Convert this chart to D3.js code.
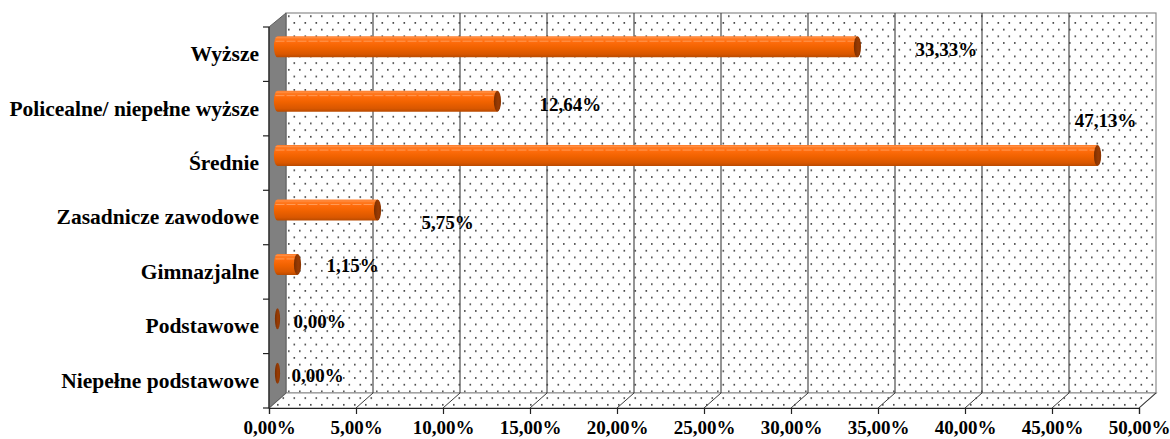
<!DOCTYPE html>
<html lang="pl">
<head>
<meta charset="utf-8">
<script src="https://cdn.jsdelivr.net/npm/d3@7"></script>
<style>
  html, body { margin: 0; padding: 0; background: #fff; }
  svg { display: block; }
  text { font-family: "Liberation Serif", "Times New Roman", serif; font-weight: bold; fill: #000; }
</style>
</head>
<body>
<svg id="chart" width="1170" height="439"></svg>
<script>
// Education level categories (top to bottom) and their shares
const categories = [
  "Wyższe",
  "Policealne/ niepełne wyższe",
  "Średnie",
  "Zasadnicze zawodowe",
  "Gimnazjalne",
  "Podstawowe",
  "Niepełne podstawowe"
];
const shares = [0.3333, 0.1264, 0.4713, 0.0575, 0.0115, 0.0000, 0.0000];
const tickValues = [0, 0.05, 0.10, 0.15, 0.20, 0.25, 0.30, 0.35, 0.40, 0.45, 0.50];

// Where each value label sits relative to the end of its bar (layout only)
const labelNudge = [
  [89, 3], [73, 3], [8, -35], [70, 12], [55, 1], [42, 3], [40, 2]
];

const pl = d3.formatLocale({ decimal: ",", thousands: " ", grouping: [3], currency: ["", " zł"] });
const pct = pl.format(".2%");

const svg = d3.select("#chart");
const depthX = 17, depthY = 15;          // 3D offset from the front plane to the back wall
const front = { left: 269, right: 1139, top: 27, bottom: 408 };

const xFront = d3.scaleLinear().domain([0, 0.5]).range([front.left, front.right]);
const xBack  = d3.scaleLinear().domain([0, 0.5]).range([front.left + depthX, front.right + depthX]);
const xMid   = d3.scaleLinear().domain([0, 0.5]).range([front.left + depthX / 2, front.right + depthX / 2]);
const yFront = d3.scaleBand().domain(categories).range([front.top, front.bottom]).paddingInner(0).paddingOuter(0);
const yMid = c => yFront(c) + yFront.bandwidth() / 2 - depthY / 2;

const backTop = front.top - depthY + 1, backBottom = front.bottom - depthY;

// ---- defs: dotted fill and cylinder shading
const defs = svg.append("defs");
const pat = defs.append("pattern").attr("id", "dots")
  .attr("patternUnits", "userSpaceOnUse").attr("width", 11).attr("height", 13.4);
pat.append("rect").attr("width", 11).attr("height", 13.4).attr("fill", "#fff");
pat.append("rect").attr("x", 2).attr("y", 2).attr("width", 1.6).attr("height", 1.6).attr("fill", "#3a3a3a");
pat.append("rect").attr("x", 7.5).attr("y", 8.7).attr("width", 1.6).attr("height", 1.6).attr("fill", "#3a3a3a");

const body = defs.append("linearGradient").attr("id", "cyl").attr("x1", 0).attr("y1", 0).attr("x2", 0).attr("y2", 1);
[[0, "#ff7f2e"], [0.12, "#ff7a22"], [0.28, "#ff6c0c"], [0.55, "#f06200"], [0.85, "#d95700"], [1, "#b94a00"]]
  .forEach(([o, c]) => body.append("stop").attr("offset", o).attr("stop-color", c));
const cap = defs.append("linearGradient").attr("id", "cap").attr("x1", 0).attr("y1", 0).attr("x2", 1).attr("y2", 0);
[[0, "#7a2e00"], [0.6, "#9a3c04"], [1, "#8a3400"]]
  .forEach(([o, c]) => cap.append("stop").attr("offset", o).attr("stop-color", c));

// ---- back wall
svg.append("rect")
  .attr("x", xBack(0)).attr("y", backTop)
  .attr("width", xBack(0.5) - xBack(0)).attr("height", backBottom - backTop)
  .attr("fill", "url(#dots)").attr("stroke", "#8c8c8c").attr("stroke-width", 1.2);

// ---- floor
svg.append("path")
  .attr("d", `M${xFront(0)},${front.bottom} L${xBack(0)},${backBottom} L${xBack(0.5)},${backBottom} L${xFront(0.5)},${front.bottom} Z`)
  .attr("fill", "url(#dots)").attr("stroke", "#8c8c8c").attr("stroke-width", 1.2);

// ---- gridlines on the wall and the floor
const grid = svg.append("g");
grid.selectAll("line.v").data(tickValues.slice(1, -1)).join("line")
  .attr("class", "v")
  .attr("x1", d => xBack(d)).attr("x2", d => xBack(d))
  .attr("y1", backTop).attr("y2", backBottom)
  .attr("stroke", "#3c3c3c").attr("stroke-width", 1.1);
grid.selectAll("line.f").data(tickValues.slice(1)).join("line")
  .attr("class", "f")
  .attr("x1", d => xBack(d)).attr("x2", d => xFront(d))
  .attr("y1", backBottom).attr("y2", front.bottom)
  .attr("stroke", "#3c3c3c").attr("stroke-width", 1);

// ---- left side wall
svg.append("path")
  .attr("d", `M${front.left},${front.top} L${xBack(0)},${backTop} L${xBack(0)},${backBottom} L${front.left},${front.bottom} Z`)
  .attr("fill", "#808080").attr("stroke", "#5e5e5e").attr("stroke-width", 1);

// ---- bars as cylinders
const ry = 10.5, rx = 3.6;
const bars = svg.append("g").selectAll("g").data(categories.map((c, i) => ({ c, v: shares[i], i }))).join("g");

bars.filter(d => d.v > 0).append("path")
  .attr("d", d => {
    const x0 = xMid(0), x1 = xMid(d.v), y = yMid(d.c);
    return `M${x1},${y - ry} L${x0},${y - ry} A${rx},${ry} 0 0 0 ${x0},${y + ry} L${x1},${y + ry} Z`;
  })
  .attr("fill", "url(#cyl)");

// soft highlight lines along the top of each cylinder
bars.filter(d => d.v > 0).append("line")
  .attr("x1", d => xMid(0) - 2).attr("x2", d => xMid(d.v))
  .attr("y1", d => yMid(d.c) - ry + 5).attr("y2", d => yMid(d.c) - ry + 5)
  .attr("stroke", "#ffa567").attr("stroke-width", 1).attr("stroke-dasharray", "9,2").attr("opacity", 0.8);
bars.filter(d => d.v > 0).append("line")
  .attr("x1", d => xMid(0) - 2).attr("x2", d => xMid(d.v))
  .attr("y1", d => yMid(d.c) - ry + 1.5).attr("y2", d => yMid(d.c) - ry + 1.5)
  .attr("stroke", "#ff9a55").attr("stroke-width", 1).attr("opacity", 0.7);

// end caps
bars.append("ellipse")
  .attr("cx", d => xMid(d.v)).attr("cy", d => yMid(d.c))
  .attr("rx", d => d.v > 0 ? rx : 2.6).attr("ry", ry)
  .attr("fill", "url(#cap)");

// ---- axes on the front plane
const axisG = svg.append("g");
axisG.append("line")
  .attr("x1", front.left).attr("x2", front.left).attr("y1", front.top).attr("y2", front.bottom)
  .attr("stroke", "#222").attr("stroke-width", 1.2);
axisG.selectAll("line.yt").data(d3.range(categories.length + 1)).join("line")
  .attr("class", "yt")
  .attr("x1", front.left - 6).attr("x2", front.left)
  .attr("y1", i => front.top + i * yFront.step()).attr("y2", i => front.top + i * yFront.step())
  .attr("stroke", "#222").attr("stroke-width", 1.2);

const xAxis = d3.axisBottom(xFront).tickValues(tickValues).tickFormat(pct).tickSize(6).tickPadding(7);
const gx = svg.append("g").attr("transform", `translate(0,${front.bottom})`).call(xAxis);
gx.select(".domain").attr("stroke", "#222").attr("stroke-width", 1.2);
gx.selectAll(".tick line").attr("stroke", "#222").attr("stroke-width", 1.2);
gx.selectAll(".tick text").attr("font-size", 19).attr("font-family", null).attr("fill", "#000");
gx.attr("font-family", null);

// category labels
const yAxis = d3.axisLeft(yFront).tickSize(0).tickPadding(10);
const gy = svg.append("g").attr("transform", `translate(${front.left},0)`).call(yAxis);
gy.select(".domain").remove();
gy.selectAll(".tick text").attr("font-size", 21.5).attr("font-family", null).attr("fill", "#000");
gy.attr("font-family", null);

// value labels
svg.append("g").selectAll("text").data(categories.map((c, i) => ({ c, v: shares[i], i }))).join("text")
  .attr("x", d => xMid(d.v) + labelNudge[d.i][0])
  .attr("y", d => yMid(d.c) + labelNudge[d.i][1])
  .attr("text-anchor", "middle").attr("dominant-baseline", "central")
  .attr("font-size", 19)
  .text(d => pct(d.v));
</script>
</body>
</html>
